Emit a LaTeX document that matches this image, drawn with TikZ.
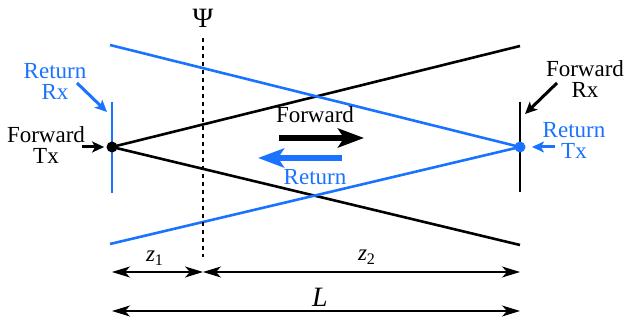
\documentclass[tikz,border=0pt]{standalone}
\usepackage{fontspec}
\setmainfont{Liberation Serif}
\usetikzlibrary{arrows.meta,positioning}
\definecolor{beamblue}{HTML}{1A73FF}
\tikzset{
  beam/.style={line width=1.3pt},
  aperture/.style={line width=1.2pt},
  callout/.style={-{Stealth[length=6pt,width=5.5pt,inset=1.5pt]}, line width=1.5pt},
  dirarrow/.style={-{Stealth[length=13pt,width=9.5pt,inset=3pt]}, line width=2.6pt},
  dimline/.style={{Stealth[length=9pt,width=5.5pt,inset=2.5pt]}-{Stealth[length=9pt,width=5.5pt,inset=2.5pt]}, line width=0.7pt},
  lbl/.style={align=center, font=\rmfamily\fontsize{11.5}{10.5}\selectfont, inner sep=0pt},
  dot/.style={circle, inner sep=0pt, minimum size=5.5pt}
}

\begin{document}
\begin{tikzpicture}[x=0.5pt, y=-0.5pt]
  \useasboundingbox (0,0) rectangle (625,324);

  % apertures
  \coordinate (ftxc) at (112,147);
  \coordinate (rtxc) at (520,147);
  \coordinate (rrxtop) at (112,102);
  \coordinate (rrxbot) at (112,193);
  \coordinate (frxtop) at (520,102);
  \coordinate (frxbot) at (520,192);
  \draw[aperture, draw=beamblue] (rrxtop) -- (rrxbot);
  \draw[aperture] (frxtop) -- (frxbot);

  % beam edges
  \coordinate (fwdtop) at (520,46);
  \coordinate (fwdbot) at (520,245);
  \coordinate (rettop) at (110,45);
  \coordinate (retbot) at (110,244);
  \draw[beam] (fwdtop) -- (ftxc) -- (fwdbot);
  \draw[beam, draw=beamblue] (rettop) -- (rtxc) -- (retbot);

  \node[dot, fill=black] (ftx) at (ftxc) {};
  \node[dot, fill=beamblue] (rtx) at (rtxc) {};

  % plane
  \node[lbl, font=\rmfamily\fontsize{14}{14}\selectfont] (psi) at (203,18) {Ψ};
  \coordinate (psitop) at (203,38);
  \coordinate (psibot) at (203,257);
  \draw[line width=1.4pt, dash pattern=on 2pt off 2pt] (psitop) -- (psibot);

  % direction arrows
  \node[lbl] (fwdlbl) at (315,115) {Forward};
  \node[lbl, text=beamblue] (retlbl) at (315,177) {Return};
  \coordinate (fwdA) at (279,138);
  \coordinate (fwdB) at (364,138);
  \coordinate (retA) at (342,158);
  \coordinate (retB) at (258,158);
  \draw[dirarrow] (fwdA) -- (fwdB);
  \draw[dirarrow, draw=beamblue, fill=beamblue] (retA) -- (retB);

  % callouts
  \node[lbl, text=beamblue] (rrx) at (55,81) {Return\\Rx};
  \node[lbl] (ftxlbl) at (46,145) {Forward\\Tx};
  \node[lbl] (frx) at (585,79) {Forward\\Rx};
  \node[lbl, text=beamblue] (rtxlbl) at (574,140) {Return\\Tx};
  \coordinate (rrxA) at (77,83);
  \coordinate (rrxB) at (107,112);
  \coordinate (ftxA) at (82,147);
  \coordinate (frxA) at (557,83);
  \coordinate (frxB) at (525,114);
  \coordinate (rtxA) at (555,147);
  \coordinate (rtxB) at (532,147);
  \draw[callout, draw=beamblue, fill=beamblue] (rrxA) -- (rrxB);
  \draw[callout, shorten >=1pt] (ftxA) -- (ftx.west);
  \draw[callout] (frxA) -- (frxB);
  \draw[callout, draw=beamblue, fill=beamblue] (rtxA) -- (rtxB);

  % dimensions
  \coordinate (dimA) at (112,272);
  \coordinate (dimB) at (203,272);
  \coordinate (dimC) at (520,272);
  \coordinate (dimLa) at (112,311);
  \coordinate (dimLb) at (520,311);
  \draw[dimline] (dimA) -- (dimB);
  \draw[dimline] (dimB) -- (dimC);
  \draw[dimline] (dimLa) -- (dimLb);
  \node[lbl] (zone) at (155,258) {\textit{z}\textsubscript{1}};
  \node[lbl] (ztwo) at (367,257) {\textit{z}\textsubscript{2}};
  \node[lbl, font=\rmfamily\fontsize{14}{14}\selectfont] (len) at (320,297) {\textit{L}};
\end{tikzpicture}
\end{document}
